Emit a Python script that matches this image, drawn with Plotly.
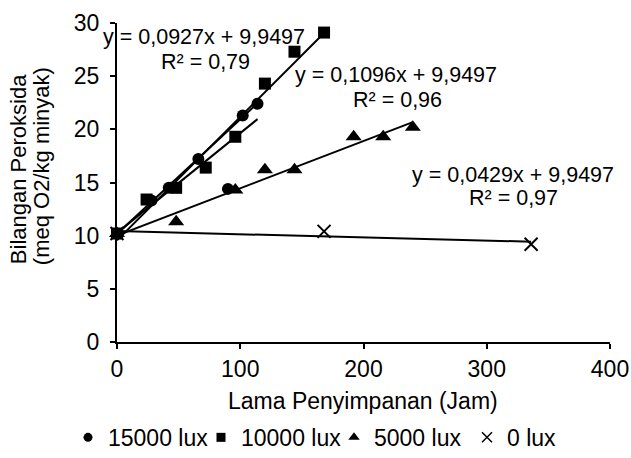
import numpy as np
import plotly.graph_objects as go

# ---- data ----
x_15000 = [0, 28, 42, 66, 90, 102, 114]
y_15000 = [10.2, 13.3, 14.5, 17.2, 14.4, 21.3, 22.4]

x_10000 = [0, 24, 48, 72, 96, 120, 144, 168]
y_10000 = [10.2, 13.4, 14.5, 16.4, 19.3, 24.3, 27.3, 29.1]

x_5000 = [0, 48, 96, 120, 144, 192, 216, 240]
y_5000 = [10.2, 11.3, 14.3, 16.2, 16.2, 19.3, 19.3, 20.2]

x_0 = [0, 168, 336]
y_0 = [10.2, 10.4, 9.2]

series_names = ["15000 lux", "10000 lux", "5000 lux", "0 lux"]
series_symbols = ["circle", "square", "triangle-up", "x-thin"]

eq_lines = [
    ["y = 0,0927x + 9,9497", "R² = 0,79"],
    ["y = 0,1096x + 9,9497", "R² = 0,96"],
    ["y = 0,0429x + 9,9497", "R² = 0,97"],
]

x_ticks = [0, 100, 200, 300, 400]
y_ticks = [0, 5, 10, 15, 20, 25, 30]

FONT = "Arial, Liberation Sans, sans-serif"

fig = go.Figure()

# ---- trend lines (linear fits of the series) ----
def fit_line(xs, ys):
    m, b = np.polyfit(xs, ys, 1)
    xr = np.array([min(xs), max(xs)], dtype=float)
    return xr, m * xr + b

# circles, outlier at 90 h left out (upper line)
mask = [i for i, v in enumerate(x_15000) if v != 90]
fits = [
    fit_line([x_15000[i] for i in mask], [y_15000[i] for i in mask]),
    fit_line(x_15000, y_15000),
    fit_line(x_10000, y_10000),
    fit_line(x_5000, y_5000),
    fit_line(x_0, y_0),
]
for xr, yr in fits:
    fig.add_trace(go.Scatter(x=xr, y=yr, mode="lines",
                             line=dict(color="black", width=2),
                             showlegend=False, hoverinfo="skip"))

# ---- markers ----
all_x = [x_15000, x_10000, x_5000, x_0]
all_y = [y_15000, y_10000, y_5000, y_0]
sizes = [12, 12, 14, 13]
leg_sizes = [9, 9, 10, 10]
for xs, ys, name, sym, sz, lsz in zip(all_x, all_y, series_names, series_symbols, sizes, leg_sizes):
    marker = dict(symbol=sym, size=sz, color="black")
    lmarker = dict(symbol=sym, size=lsz, color="black")
    if sym == "x-thin":
        marker["line"] = dict(color="black", width=2)
        lmarker["line"] = dict(color="black", width=1.5)
    fig.add_trace(go.Scatter(x=xs, y=ys, mode="markers", name=name, marker=marker,
                             cliponaxis=False, showlegend=False))
    # legend entry with the smaller legend symbol
    fig.add_trace(go.Scatter(x=[None], y=[None], mode="markers", name=name,
                             marker=lmarker, showlegend=True))

# ---- equation annotations ----
eq_pos = [  # (x, y) in data coordinates for the two lines of each label
    [(70.6, 28.66), (72.0, 26.31)],
    [(226.2, 25.09), (227.4, 22.74)],
    [(320.9, 15.68), (321.3, 13.52)],
]
annotations = []
for lines, pos in zip(eq_lines, eq_pos):
    for txt, (ax, ay) in zip(lines, pos):
        annotations.append(dict(x=ax, y=ay, xref="x", yref="y", text=txt,
                                showarrow=False, xanchor="center", yanchor="middle",
                                font=dict(family=FONT, size=21.5, color="black")))

# axis titles as annotations
annotations.append(dict(x=(18 - 117) / 493, y=(341.7 - 169) / 318.7, xref="paper", yref="paper",
                        text="Bilangan Peroksida", textangle=-90, showarrow=False,
                        xanchor="center", yanchor="middle",
                        font=dict(family=FONT, size=22, color="black")))
annotations.append(dict(x=(41 - 117) / 493, y=(341.7 - 166) / 318.7, xref="paper", yref="paper",
                        text="(meq O2/kg minyak)", textangle=-90, showarrow=False,
                        xanchor="center", yanchor="middle",
                        font=dict(family=FONT, size=22, color="black")))
annotations.append(dict(x=(363.4 - 117) / 493, y=(341.7 - 401) / 318.7, xref="paper", yref="paper",
                        text="Lama Penyimpanan (Jam)", showarrow=False,
                        xanchor="center", yanchor="middle",
                        font=dict(family=FONT, size=23, color="black")))

fig.update_layout(
    width=631, height=458,
    margin=dict(l=117, r=21, t=23, b=116, pad=0, autoexpand=False),
    paper_bgcolor="white", plot_bgcolor="white",
    font=dict(family=FONT, size=22, color="black"),
    annotations=annotations,
    legend=dict(orientation="h", x=(68 - 117) / 493, y=(341.7 - 437) / 318.7,
                xanchor="left", yanchor="middle",
                font=dict(family=FONT, size=23, color="black"),
                bgcolor="rgba(0,0,0,0)", itemwidth=30,
                entrywidth=88, entrywidthmode="pixels"),
    xaxis=dict(range=[0, 400], tickvals=x_ticks, showgrid=False, zeroline=False,
               showline=True, linecolor="black", linewidth=2,
               ticks="outside", ticklen=5, tickwidth=2, tickcolor="black",
               tickfont=dict(family=FONT, size=23, color="black")),
    yaxis=dict(range=[0, 30], tickvals=y_ticks, showgrid=False, zeroline=False,
               showline=True, linecolor="black", linewidth=2,
               ticks="outside", ticklen=5, tickwidth=2, tickcolor="black",
               tickfont=dict(family=FONT, size=23, color="black"),
               ticklabelstandoff=6),
)

fig.write_html("out.html")
